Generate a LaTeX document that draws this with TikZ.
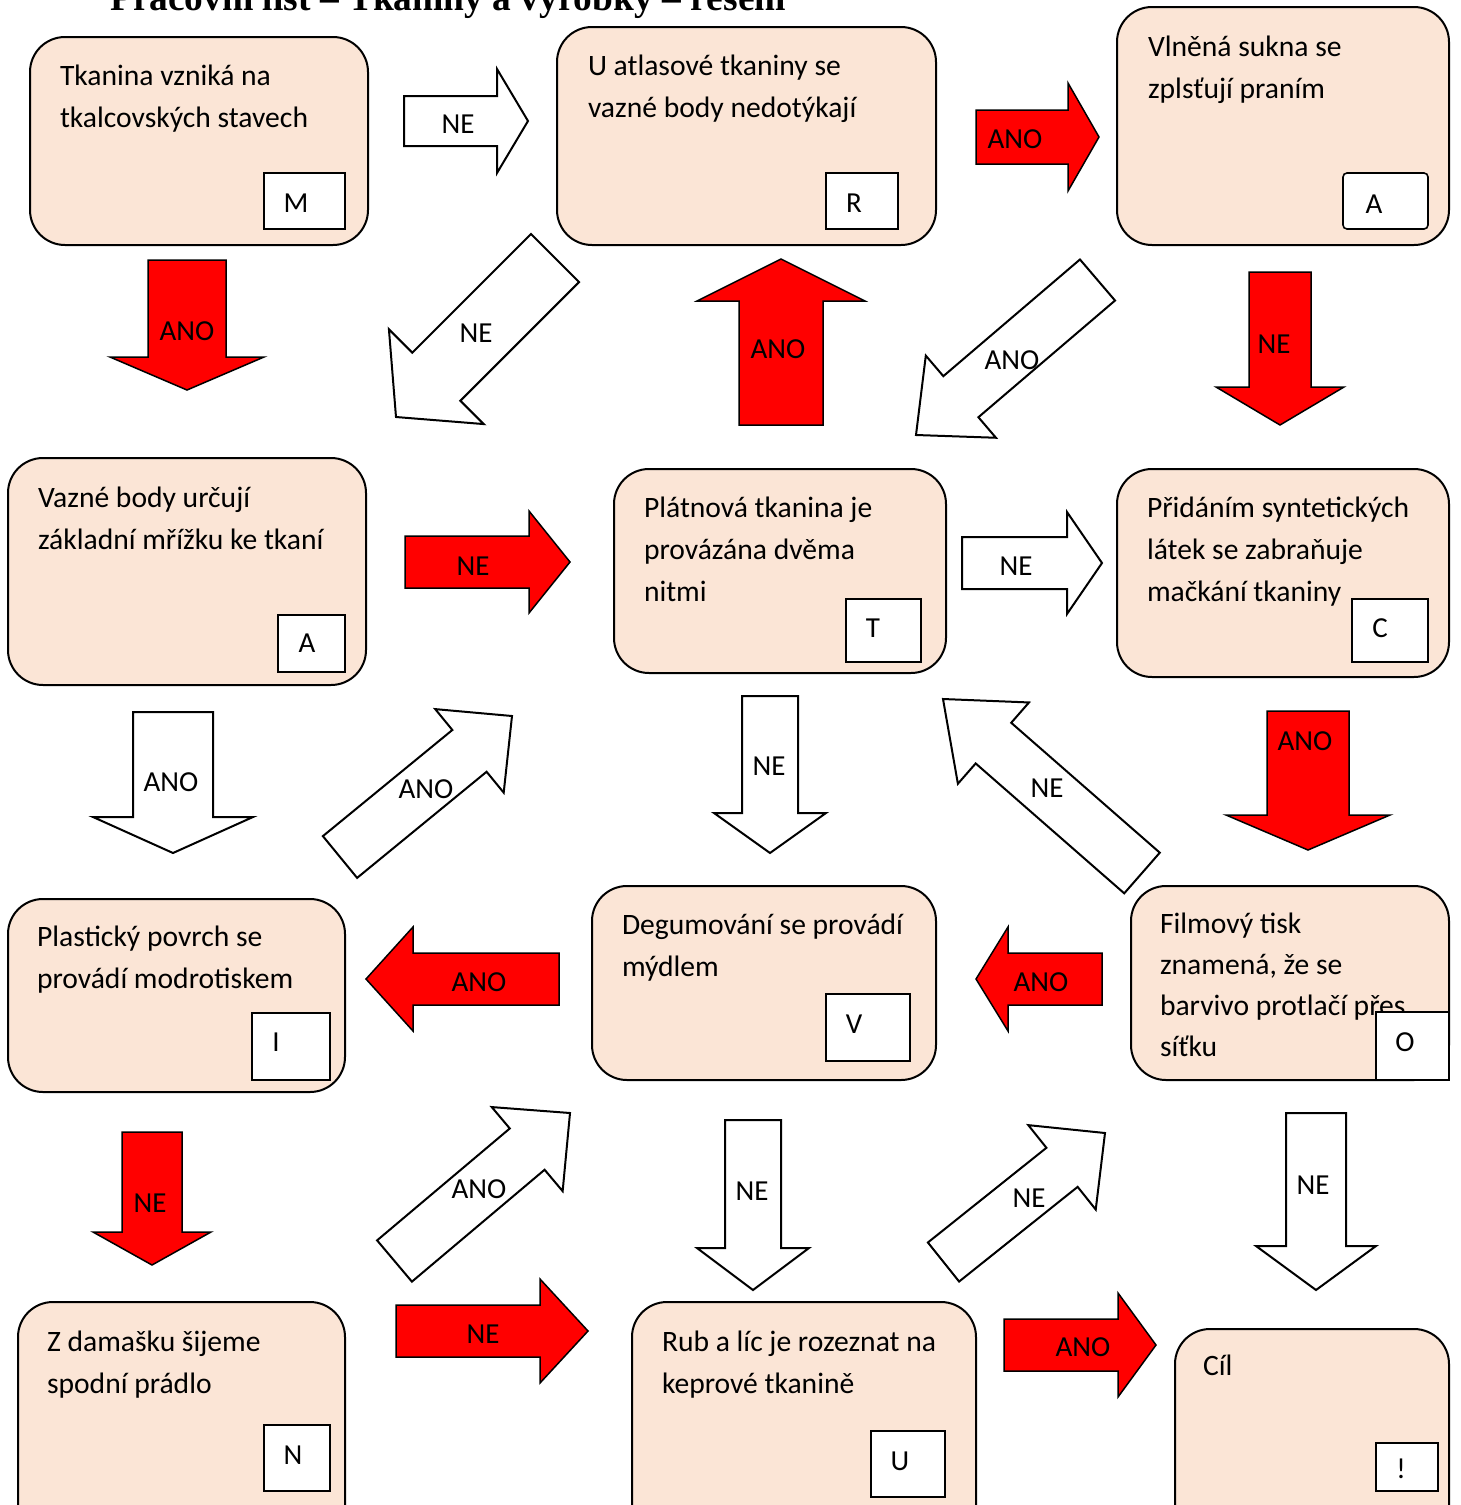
\documentclass[tikz,border=0pt]{standalone}
\usepackage{fontspec}
\setmainfont{Carlito}
\newfontfamily\titlefont{Liberation Serif}
\usetikzlibrary{calc}
\definecolor{peach}{RGB}{251,229,214}
\definecolor{ared}{RGB}{255,0,0}
\tikzset{
  box/.style={draw=black, line width=2pt, fill=peach, rounded corners=35pt, anchor=north west, inner sep=0pt, outer sep=0pt},
  tag/.style={draw=black, line width=1.6pt, fill=white, anchor=north west, inner sep=0pt, outer sep=0pt},
  tagtxt/.style={inner sep=0pt, font=\fontsize{29}{34}\selectfont},
  txt/.style={anchor=base west, inner sep=0pt, outer sep=0pt, font=\fontsize{29.6}{42}\selectfont},
  redarrow/.style={draw=black, line width=1.5pt, fill=ared},
  whitearrow/.style={draw=black, line width=2pt, fill=white},
  alabel/.style={font=\fontsize{29}{34}\selectfont, inner sep=0pt},
}
\newcommand\lines[1]{\begin{tabular}[t]{@{}l@{}}#1\end{tabular}}
% style, tail, tip, shaft half width, head half width, head length
\newcommand\barrow[6]{%
  \draw[#1] ($(#2)!#4!90:(#3)$) -- ($(#3)!#6!(#2)!#4!90:(#3)$) -- ($(#3)!#6!(#2)!#5!90:(#3)$) -- (#3)
    -- ($(#3)!#6!(#2)!#5!-90:(#3)$) -- ($(#3)!#6!(#2)!#4!-90:(#3)$) -- ($(#2)!#4!-90:(#3)$) -- cycle;}
\begin{document}
\begin{tikzpicture}[x=1pt, y=-1pt]
\useasboundingbox (0,0) rectangle (1460,1505);
\clip (0,0) rectangle (1460,1505);
\fill[white] (0,0) rectangle (1460,1505);

% title (cut at the top edge)
\node[anchor=base west, inner sep=0pt, font=\titlefont\bfseries\fontsize{37.4}{40}\selectfont] (title) at (110,10) {Pracovní list – Tkaniny a výrobky – řešení};

% ---------- boxes ----------
\node[box, minimum width=338pt, minimum height=208pt] (bM) at (30,37) {};
\node[txt] (tM) at (60,85) {\lines{Tkanina vzniká na\\tkalcovských stavech}};
\node[tag, minimum width=81pt, minimum height=56pt] (gM) at (264,173) {};
\node[tagtxt] (kM) at (296,203) {M};

\node[box, minimum width=379pt, minimum height=218pt] (bR) at (557,27) {};
\node[txt] (tR) at (588,75) {\lines{U atlasové tkaniny se\\vazné body nedotýkají}};
\node[tag, minimum width=72pt, minimum height=56pt] (gR) at (826,173) {};
\node[tagtxt] (kR) at (854,203) {R};

\node[box, minimum width=332pt, minimum height=238pt] (bA1) at (1117,7) {};
\node[txt] (tA1) at (1148,56) {\lines{Vlněná sukna se\\zplsťují praním}};
\node[tag, minimum width=85pt, minimum height=56pt, rounded corners=4pt] (gA1) at (1343,173) {};
\node[tagtxt] (kA1) at (1374,204) {A};

\node[box, minimum width=358pt, minimum height=227pt] (bA2) at (8,458) {};
\node[txt] (tA2) at (38,507) {\lines{Vazné body určují\\základní mřížku ke tkaní}};
\node[tag, minimum width=67pt, minimum height=57pt] (gA2) at (278,615) {};
\node[tagtxt] (kA2) at (307,643) {A};

\node[box, minimum width=332pt, minimum height=204pt] (bT) at (614,469) {};
\node[txt] (tT) at (644,517) {\lines{Plátnová tkanina je\\provázána dvěma\\nitmi}};
\node[tag, minimum width=75pt, minimum height=63pt] (gT) at (846,599) {};
\node[tagtxt] (kT) at (873,628) {T};

\node[box, minimum width=332pt, minimum height=208pt] (bC) at (1117,469) {};
\node[txt] (tC) at (1147,517) {\lines{Přidáním syntetických\\látek se zabraňuje\\mačkání tkaniny}};
\node[tag, minimum width=76pt, minimum height=63pt] (gC) at (1352,599) {};
\node[tagtxt] (kC) at (1380,628) {C};

\node[box, minimum width=337pt, minimum height=193pt] (bI) at (8,899) {};
\node[txt] (tI) at (37,946) {\lines{Plastický povrch se\\provádí modrotiskem}};
\node[tag, minimum width=78pt, minimum height=67pt] (gI) at (252,1013) {};
\node[tagtxt] (kI) at (276,1042) {I};

\node[box, minimum width=344pt, minimum height=194pt] (bV) at (592,886) {};
\node[txt] (tV) at (622,934) {\lines{Degumování se provádí\\mýdlem}};
\node[tag, minimum width=84pt, minimum height=67pt] (gV) at (826,994) {};
\node[tagtxt] (kV) at (854,1024) {V};

\node[box, minimum width=318pt, minimum height=194pt] (bO) at (1131,886) {};
\node[txt, font=\fontsize{29.6}{41}\selectfont] (tO) at (1160,933) {\lines{Filmový tisk\\znamená, že se\\barvivo protlačí přes\\síťku}};
\node[tag, minimum width=73pt, minimum height=68pt] (gO) at (1376,1012) {};
\node[tagtxt] (kO) at (1405,1042) {O};

\node[box, minimum width=327pt, minimum height=240pt] (bN) at (18,1302) {};
\node[txt] (tN) at (47,1351) {\lines{Z damašku šijeme\\spodní prádlo}};
\node[tag, minimum width=66pt, minimum height=66pt] (gN) at (264,1425) {};
\node[tagtxt] (kN) at (293,1455) {N};

\node[box, minimum width=344pt, minimum height=240pt] (bU) at (632,1302) {};
\node[txt] (tU) at (662,1351) {\lines{Rub a líc je rozeznat na\\keprové tkanině}};
\node[tag, minimum width=74pt, minimum height=66pt] (gU) at (871,1431) {};
\node[tagtxt] (kU) at (900,1461) {U};

\node[box, minimum width=274pt, minimum height=220pt] (bCil) at (1175,1329) {};
\node[txt] (tCil) at (1203,1375) {Cíl};
\node[tag, minimum width=62pt, minimum height=48pt] (gCil) at (1376,1443) {};
\node[tagtxt] (kCil) at (1401,1469) {!};

% ---------- arrow end points ----------
\coordinate (a1s) at (404,121);   \coordinate (a1e) at (528,121);
\coordinate (a2s) at (976,137);   \coordinate (a2e) at (1099,137);
\coordinate (a3s) at (187,260);   \coordinate (a3e) at (187,390);
\coordinate (a4s) at (555,258);   \coordinate (a4e) at (396,417);
\coordinate (a5s) at (781,425);   \coordinate (a5e) at (781,259);
\coordinate (a6s) at (1097.5,280);\coordinate (a6e) at (916,435);
\coordinate (a7s) at (1280,272);  \coordinate (a7e) at (1280,425);
\coordinate (a8s) at (405,562);   \coordinate (a8e) at (570,562);
\coordinate (a9s) at (962,563);   \coordinate (a9e) at (1102,563);
\coordinate (a10s) at (173,712);  \coordinate (a10e) at (173,853);
\coordinate (a11s) at (340,857);  \coordinate (a11e) at (512,716);
\coordinate (a12s) at (770,696);  \coordinate (a12e) at (770,853);
\coordinate (a13s) at (1142,873); \coordinate (a13e) at (943,699);
\coordinate (a14s) at (1308,711); \coordinate (a14e) at (1308,850);
\coordinate (a15s) at (559,979);  \coordinate (a15e) at (366,979);
\coordinate (a16s) at (1102,979); \coordinate (a16e) at (976,979);
\coordinate (a17s) at (152,1132); \coordinate (a17e) at (152,1265);
\coordinate (a18s) at (394.5,1261);\coordinate (a18e) at (570,1113);
\coordinate (a19s) at (753,1120); \coordinate (a19e) at (753,1290);
\coordinate (a20s) at (943.5,1262);\coordinate (a20e) at (1105,1133);
\coordinate (a21s) at (1316,1113);\coordinate (a21e) at (1316,1290);
\coordinate (a22s) at (396,1331); \coordinate (a22e) at (588,1331);
\coordinate (a23s) at (1004,1345);\coordinate (a23e) at (1156,1345);

% ---------- arrows ----------
\barrow{whitearrow}{a1s}{a1e}{25pt}{52pt}{31pt}
\barrow{redarrow}{a2s}{a2e}{27pt}{54pt}{31pt}
\barrow{redarrow}{a3s}{a3e}{39pt}{77pt}{33pt}
\barrow{whitearrow}{a4s}{a4e}{34pt}{67pt}{57pt}
\barrow{redarrow}{a5s}{a5e}{42pt}{84pt}{42pt}
\barrow{whitearrow}{a6s}{a6e}{27pt}{54pt}{59pt}
\barrow{redarrow}{a7s}{a7e}{31pt}{64pt}{38pt}
\barrow{redarrow}{a8s}{a8e}{26pt}{51pt}{41pt}
\barrow{whitearrow}{a9s}{a9e}{26pt}{51pt}{35pt}
\barrow{whitearrow}{a10s}{a10e}{40pt}{80pt}{36pt}
\barrow{whitearrow}{a11s}{a11e}{27pt}{54pt}{55pt}
\barrow{whitearrow}{a12s}{a12e}{28pt}{56pt}{40pt}
\barrow{whitearrow}{a13s}{a13e}{27pt}{54pt}{67pt}
\barrow{redarrow}{a14s}{a14e}{41pt}{82pt}{35pt}
\barrow{redarrow}{a15s}{a15e}{26pt}{52pt}{47pt}
\barrow{redarrow}{a16s}{a16e}{26pt}{52pt}{32pt}
\barrow{redarrow}{a17s}{a17e}{30pt}{59pt}{33pt}
\barrow{whitearrow}{a18s}{a18e}{27pt}{55pt}{56pt}
\barrow{whitearrow}{a19s}{a19e}{28pt}{56pt}{42pt}
\barrow{whitearrow}{a20s}{a20e}{25pt}{54pt}{55pt}
\barrow{whitearrow}{a21s}{a21e}{30pt}{60pt}{44pt}
\barrow{redarrow}{a22s}{a22e}{26pt}{52pt}{48pt}
\barrow{redarrow}{a23s}{a23e}{26pt}{52pt}{38pt}

% ---------- arrow labels ----------
\node[alabel] (l1) at (458,124) {NE};
\node[alabel] (l2) at (1015,139) {ANO};
\node[alabel] (l3) at (187,331) {ANO};
\node[alabel] (l4) at (476,333) {NE};
\node[alabel] (l5) at (778,349) {ANO};
\node[alabel] (l6) at (1012,360) {ANO};
\node[alabel] (l7) at (1274,344) {NE};
\node[alabel] (l8) at (473,566) {NE};
\node[alabel] (l9) at (1016,566) {NE};
\node[alabel] (l10) at (171,782) {ANO};
\node[alabel] (l11) at (426,789) {ANO};
\node[alabel] (l12) at (769,766) {NE};
\node[alabel] (l13) at (1047,788) {NE};
\node[alabel] (l14) at (1305,741) {ANO};
\node[alabel] (l15) at (479,982) {ANO};
\node[alabel] (l16) at (1041,982) {ANO};
\node[alabel] (l17) at (150,1203) {NE};
\node[alabel] (l18) at (479,1189) {ANO};
\node[alabel] (l19) at (752,1191) {NE};
\node[alabel] (l20) at (1029,1198) {NE};
\node[alabel] (l21) at (1313,1185) {NE};
\node[alabel] (l22) at (483,1334) {NE};
\node[alabel] (l23) at (1083,1347) {ANO};
\end{tikzpicture}
\end{document}
